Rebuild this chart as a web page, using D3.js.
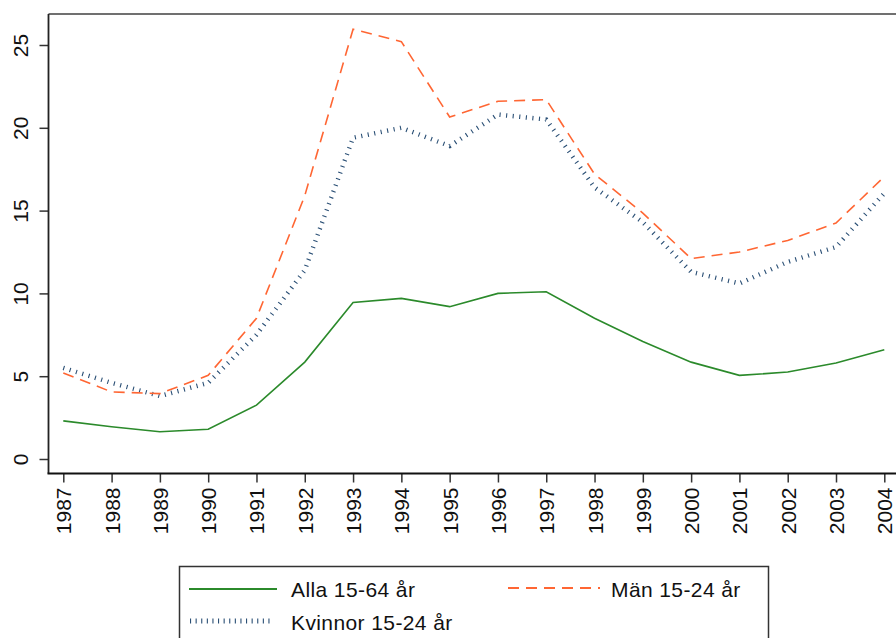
<!DOCTYPE html>
<html>
<head>
<meta charset="utf-8">
<script src="https://cdn.jsdelivr.net/npm/d3@7"></script>
<style>
  body { margin: 0; background: #fff; }
  svg { display: block; font-family: Arial, "Liberation Sans", sans-serif; }
</style>
</head>
<body>
<div id="wrapper"></div>
<script>
// years on the x axis
const years = [1987, 1988, 1989, 1990, 1991, 1992, 1993, 1994, 1995, 1996, 1997, 1998, 1999, 2000, 2001, 2002, 2003, 2004]

// series values
const alla = [2.3, 1.95, 1.65, 1.8, 3.25, 5.85, 9.45, 9.7, 9.2, 10.0, 10.1, 8.5, 7.1, 5.85, 5.05, 5.25, 5.8, 6.6]
const man = [5.2, 4.05, 3.95, 5.05, 8.5, 15.9, 25.95, 25.2, 20.65, 21.6, 21.7, 17.2, 14.85, 12.1, 12.5, 13.2, 14.25, 17.05]
const kvinnor = [5.5, 4.6, 3.8, 4.6, 7.5, 11.4, 19.4, 20.0, 18.9, 20.8, 20.5, 16.4, 14.3, 11.3, 10.6, 11.9, 12.8, 16.05]

const yTicks = [0, 5, 10, 15, 20, 25]

const seriesNames = ["Alla 15-64 år", "Män 15-24 år", "Kvinnor 15-24 år"]

const width = 896
const height = 638

const svg = d3.select("#wrapper")
  .append("svg")
    .attr("width", width)
    .attr("height", height)

// frame of the plot region
const frame = { left: 48.5, top: 14, right: 900, bottom: 473.5 }

const xScale = d3.scaleLinear()
  .domain([1987, 2004])
  .range([63.3, 884.3])

const yScale = d3.scaleLinear()
  .domain([0, 25])
  .range([459, 45])

// top border (right side runs off the image)
svg.append("line")
  .attr("x1", frame.left).attr("x2", frame.right)
  .attr("y1", frame.top).attr("y2", frame.top)
  .attr("stroke", "#404040").attr("stroke-width", 1.5)

// y axis
const yAxis = svg.append("g")
  .attr("transform", `translate(${frame.left},0)`)
  .call(d3.axisLeft(yScale).tickValues(yTicks).tickSize(9).tickSizeOuter(0).tickFormat(d3.format("d")))
yAxis.select(".domain").remove()
yAxis.append("line")
  .attr("x1", 0).attr("x2", 0)
  .attr("y1", frame.top).attr("y2", frame.bottom)
  .attr("stroke", "#222").attr("stroke-width", 1.8)
yAxis.selectAll(".tick line").attr("stroke", "#333").attr("stroke-width", 1.5)
yAxis.selectAll(".tick text")
  .attr("font-size", 21)
  .attr("fill", "#111")
  .attr("text-anchor", "middle")
  .attr("x", null).attr("dy", null)
  .attr("transform", "translate(-20.5,0) rotate(-90)")

// x axis
const xAxis = svg.append("g")
  .attr("transform", `translate(0,${frame.bottom})`)
  .call(d3.axisBottom(xScale).tickValues(years).tickSize(9).tickSizeOuter(0).tickFormat(d3.format("d")))
xAxis.select(".domain").remove()
xAxis.append("line")
  .attr("x1", frame.left - 1).attr("x2", frame.right)
  .attr("y1", 0).attr("y2", 0)
  .attr("stroke", "#111").attr("stroke-width", 2.2)
xAxis.selectAll(".tick line").attr("stroke", "#333").attr("stroke-width", 1.5)
xAxis.selectAll(".tick text")
  .attr("font-size", 21)
  .attr("fill", "#111")
  .attr("text-anchor", "end")
  .attr("y", null).attr("dy", null)
  .attr("transform", "translate(7.5,14) rotate(-90)")

// series styling
const styles = [
  { values: alla, color: "#2b8a2b", width: 1.6, dash: null },
  { values: man, color: "#ff6633", width: 1.6, dash: "11,7" },
  { values: kvinnor, color: "#2a4f75", width: 4.5, dash: "1.1,5.5" }
]

const line = d3.line()
  .x((d, i) => xScale(years[i]))
  .y(d => yScale(d))

// draw kvinnor first so others sit on top like the original
const drawOrder = [2, 1, 0]
drawOrder.forEach(k => {
  const s = styles[k]
  svg.append("path")
    .datum(s.values)
    .attr("d", line)
    .attr("fill", "none")
    .attr("stroke", s.color)
    .attr("stroke-width", s.width)
    .attr("stroke-dasharray", s.dash)
})

// legend box
const legend = svg.append("g")
legend.append("rect")
  .attr("x", 179.5).attr("y", 566.5)
  .attr("width", 589).attr("height", 90)
  .attr("fill", "#fff")
  .attr("stroke", "#333").attr("stroke-width", 1.5)

const legendItems = [
  { k: 0, x1: 189, x2: 277, y: 589, tx: 291, ty: 597 },
  { k: 1, x1: 508, x2: 600, y: 588, tx: 611, ty: 597 },
  { k: 2, x1: 190, x2: 272, y: 621, tx: 291, ty: 630 }
]

legendItems.forEach(item => {
  const s = styles[item.k]
  legend.append("line")
    .attr("x1", item.x1).attr("x2", item.x2)
    .attr("y1", item.y).attr("y2", item.y)
    .attr("stroke", s.color)
    .attr("stroke-width", item.k === 2 ? 5 : 1.8)
    .attr("stroke-dasharray", item.k === 2 ? "1.1,4.5" : s.dash)
  legend.append("text")
    .attr("x", item.tx).attr("y", item.ty)
    .attr("font-size", 21)
    .attr("letter-spacing", 0.4)
    .attr("fill", "#111")
    .text(seriesNames[item.k])
})
</script>
</body>
</html>
